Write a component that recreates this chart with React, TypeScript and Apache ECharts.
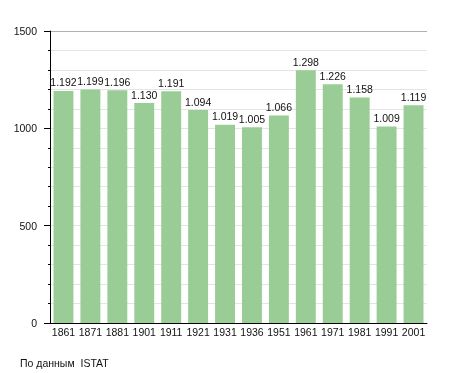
import React, { useEffect, useRef } from "react";
import * as echarts from "echarts";

const years = ["1861", "1871", "1881", "1901", "1911", "1921", "1931", "1936", "1951", "1961", "1971", "1981", "1991", "2001"];
const population = [1192, 1199, 1196, 1130, 1191, 1094, 1019, 1005, 1066, 1298, 1226, 1158, 1009, 1119];
const yTicks = [0, 500, 1000, 1500];
const sourceNote = "По данным  ISTAT";

const fmt = (v: number) => {
  const s = String(Math.round(v));
  return s.replace(/\B(?=(\d{3})+(?!\d))/g, ".");
};

export default function App() {
  const ref = useRef<HTMLDivElement>(null);
  useEffect(() => {
    if (!ref.current) return;
    const chart = echarts.init(ref.current, undefined, { renderer: "svg" });
    chart.setOption({
      animation: false,
      textStyle: { fontFamily: "Liberation Sans, Arial, sans-serif" },
      grid: { left: 50, right: 28, top: 31, bottom: 50, containLabel: false },
      xAxis: {
        type: "category",
        data: years,
        axisLine: { lineStyle: { color: "#000", width: 1 } },
        axisTick: { show: false },
        axisLabel: { color: "#111", fontSize: 10.5, margin: 3, interval: 0 },
      },
      yAxis: {
        type: "value",
        min: yTicks[0],
        max: yTicks[yTicks.length - 1],
        interval: 500,
        axisLine: { show: true, lineStyle: { color: "#000", width: 1 } },
        axisTick: { show: true, length: 6, lineStyle: { color: "#000" } },
        minorTick: { show: true, splitNumber: 5, length: 2, lineStyle: { color: "#000" } },
        axisLabel: { color: "#111", fontSize: 10.5, margin: 13, formatter: (v: number) => String(v) },
        splitLine: { show: true, lineStyle: { color: ["#e4e4e4", "#e4e4e4", "#e4e4e4", "#b0b0b0"], width: 1 } },
        minorSplitLine: { show: true, lineStyle: { color: "#e4e4e4", width: 1 } },
      },
      series: [
        {
          type: "bar",
          data: population,
          barCategoryGap: "26%",
          itemStyle: { color: "#9acd96" },
          label: {
            show: true,
            position: "top",
            distance: 3,
            color: "#111",
            fontSize: 10.5,
            formatter: (p: any) => fmt(p.value),
          },
        },
      ],
      graphic: [
        {
          type: "text",
          left: 20,
          top: 357,
          style: { text: sourceNote, fill: "#111", fontSize: 10.5, fontFamily: "Liberation Sans, Arial, sans-serif" },
        },
      ],
    });
    return () => chart.dispose();
  }, []);
  return <div ref={ref} style={{ position: "fixed", left: 0, top: 0, width: 455, height: 373 }} />;
}
